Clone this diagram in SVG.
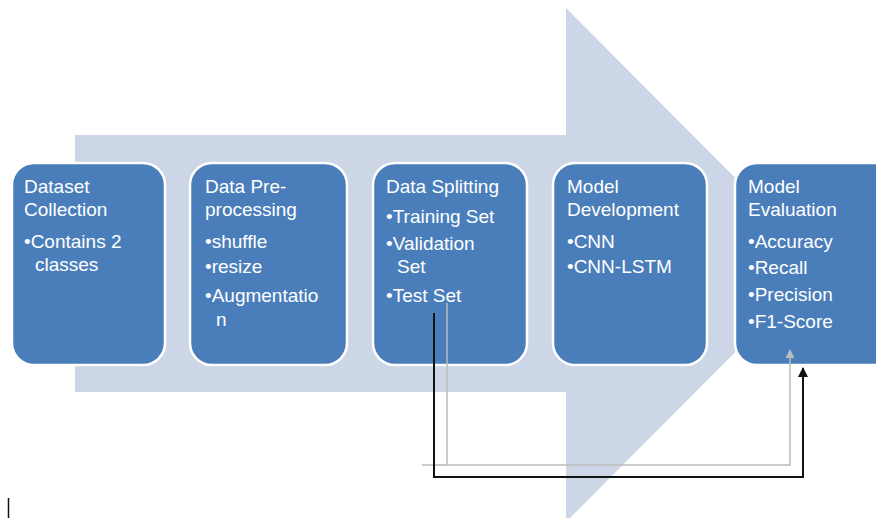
<svg xmlns="http://www.w3.org/2000/svg" width="876" height="518" viewBox="0 0 876 518">
<defs>
<style>
.box{fill:#4a7ebb;stroke:#ffffff;stroke-width:2.5}
.t{font-family:"Liberation Sans",Arial,sans-serif;font-size:19px;fill:#ffffff}
</style>
<marker id="ab" viewBox="0 0 10 10" refX="9" refY="5" markerWidth="5" markerHeight="5" orient="auto" markerUnits="strokeWidth"><path d="M0,0 L10,5 L0,10 z" fill="#111111"/></marker>
<marker id="ag" viewBox="0 0 10 10" refX="9" refY="5" markerWidth="6" markerHeight="6" orient="auto" markerUnits="strokeWidth"><path d="M0,0 L10,5 L0,10 z" fill="#bbbbbb"/></marker>
</defs>
<rect width="876" height="518" fill="#ffffff"/>
<path id="bigarrow" d="M75,135 L566,135 L566,8 L822,265 L566,522 L566,392 L75,392 z" fill="#cdd6e7"/>
<g id="n1"><rect class="box" x="12" y="163" width="153" height="202" rx="22"/>
<text class="t" x="24" y="193">Dataset</text><text class="t" x="24" y="216">Collection</text><text class="t" x="24" y="248">•Contains 2</text><text class="t" x="35" y="271">classes</text></g>
<g id="n2"><rect class="box" x="190" y="163" width="157" height="202" rx="22"/>
<text class="t" x="205" y="193">Data Pre-</text><text class="t" x="205" y="216">processing</text><text class="t" x="205" y="248">•shuffle</text><text class="t" x="205" y="273">•resize</text><text class="t" x="205" y="302">•Augmentatio</text><text class="t" x="216" y="326">n</text></g>
<g id="n3"><rect class="box" x="373" y="163" width="154" height="202" rx="22"/>
<text class="t" x="386" y="193">Data Splitting</text><text class="t" x="386" y="223">•Training Set</text><text class="t" x="386" y="250">•Validation</text><text class="t" x="397" y="273">Set</text><text class="t" x="386" y="302">•Test Set</text></g>
<g id="n4"><rect class="box" x="553" y="163" width="154" height="202" rx="22"/>
<text class="t" x="567" y="193">Model</text><text class="t" x="567" y="216">Development</text><text class="t" x="567" y="248">•CNN</text><text class="t" x="567" y="273">•CNN-LSTM</text></g>
<g id="n5"><rect class="box" x="735" y="163" width="170" height="202" rx="22"/>
<text class="t" x="748" y="193">Model</text><text class="t" x="748" y="216">Evaluation</text><text class="t" x="748" y="248">•Accuracy</text><text class="t" x="748" y="274">•Recall</text><text class="t" x="748" y="301">•Precision</text><text class="t" x="748" y="328">•F1-Score</text></g>
<g id="connectors" fill="none">
<path d="M447,303 L447,465 M422,465 L790,465 L790,350" stroke="#bbbbbb" stroke-width="1.5" marker-end="url(#ag)"/>
<path d="M434,313 L434,477 L803,477 L803,368" stroke="#111111" stroke-width="2" marker-end="url(#ab)"/>
</g>
<line x1="8.5" y1="498" x2="8.5" y2="518" stroke="#111111" stroke-width="1.5"/>
</svg>
